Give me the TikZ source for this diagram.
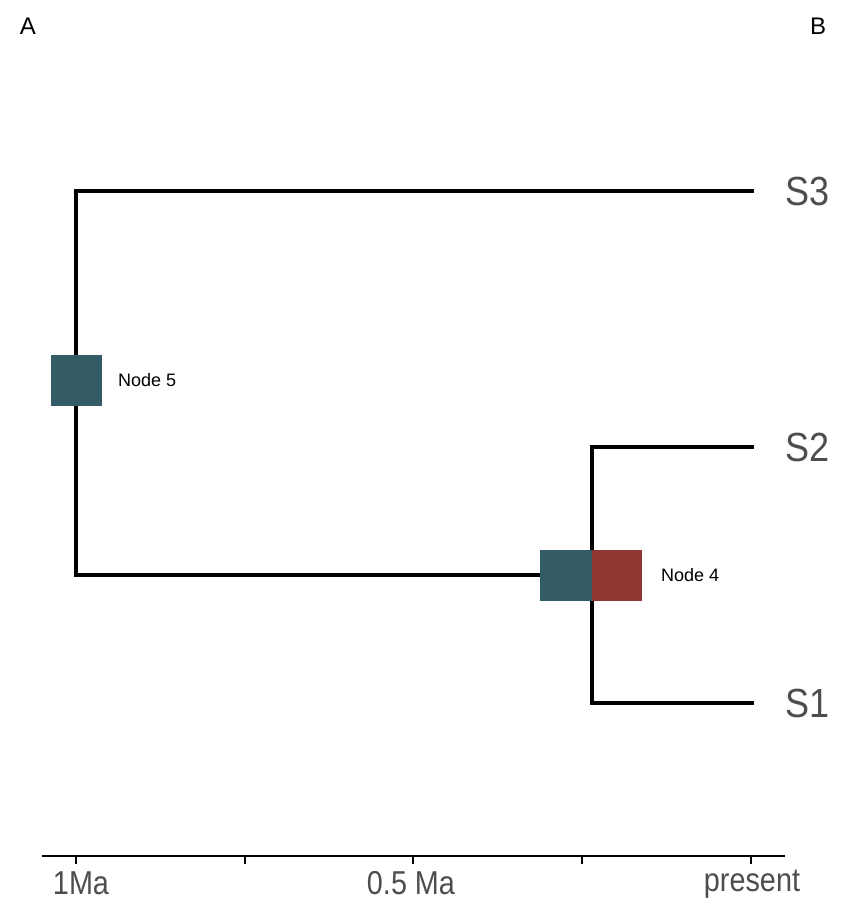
\documentclass[tikz,border=0pt]{standalone}
\usepackage{fontspec}
\setmainfont{Liberation Sans}
\definecolor{teal5}{RGB}{51,92,103}
\definecolor{red4}{RGB}{145,54,50}
\definecolor{labgray}{RGB}{77,77,77}
\begin{document}
\begin{tikzpicture}[x=1pt,y=1pt,
  branch/.style={line width=4pt,line cap=rect},
  axisline/.style={line width=2.2pt},
  tick/.style={line width=1.2pt},
  statebox/.style={minimum width=51pt,minimum height=51pt,inner sep=0pt,draw=none},
  tiplabel/.style={anchor=west,inner sep=0pt,text=labgray,font=\fontsize{36}{40}\selectfont},
  nodelabel/.style={anchor=west,inner sep=0pt,font=\fontsize{18}{20}\selectfont},
  axlabel/.style={anchor=base,inner sep=0pt,text=labgray,font=\fontsize{28.8}{32}\selectfont},
  panel/.style={inner sep=0pt,font=\fontsize{24}{26}\selectfont}]
\useasboundingbox (0,0) rectangle (846,-908);
% coordinates
\coordinate (r) at (76,-380);
\coordinate (rtop) at (76,-191);
\coordinate (rbot) at (76,-575);
\coordinate (n4) at (592,-575);
\coordinate (n4top) at (592,-447);
\coordinate (n4bot) at (592,-703);
\coordinate (t3) at (752,-191);
\coordinate (t2) at (752,-447);
\coordinate (t1) at (752,-703);
% branches
\draw[branch] (rtop) -- (rbot);
\draw[branch] (rtop) -- (t3);
\draw[branch] (rbot) -- (n4);
\draw[branch] (n4top) -- (n4bot);
\draw[branch] (n4top) -- (t2);
\draw[branch] (n4bot) -- (t1);
% state boxes
\node[statebox,fill=teal5] (b5) at (r) {};
\node[statebox,fill=teal5,minimum width=52pt] (b4a) at (566,-575.5) {};
\node[statebox,fill=red4,minimum width=50pt] (b4b) at (617,-575.5) {};
\node[nodelabel] (l5) at (118,-380) {Node 5};
\node[nodelabel] (l4) at (661,-575) {Node 4};
% tip labels
\node[tiplabel] (s3) at (785,-191) {\scalebox{1}[1.13]{S3}};
\node[tiplabel] (s2) at (785,-447) {\scalebox{1}[1.13]{S2}};
\node[tiplabel] (s1) at (785,-703) {\scalebox{1}[1.13]{S1}};
% axis
\coordinate (axl) at (42,-856);
\coordinate (axr) at (785,-856);
\draw[axisline] (axl) -- (axr);
\foreach \x/\n in {76/a,245/b,413/c,582/d,751/e}{
  \coordinate (tk\n) at (\x,-856);
  \coordinate (tb\n) at (\x,-864);
  \draw[tick] (tk\n) -- (tb\n);
}
\node[axlabel] (x1) at (81,-894) {\scalebox{1}[1.15]{1Ma}};
\node[axlabel] (x2) at (411,-894) {\scalebox{1}[1.15]{0.5 Ma}};
\node[axlabel] (x3) at (752,-891) {\scalebox{1}[1.15]{present}};
% panel letters
\node[panel] (pa) at (28,-26) {A};
\node[panel] (pb) at (818,-26) {B};
\end{tikzpicture}
\end{document}
